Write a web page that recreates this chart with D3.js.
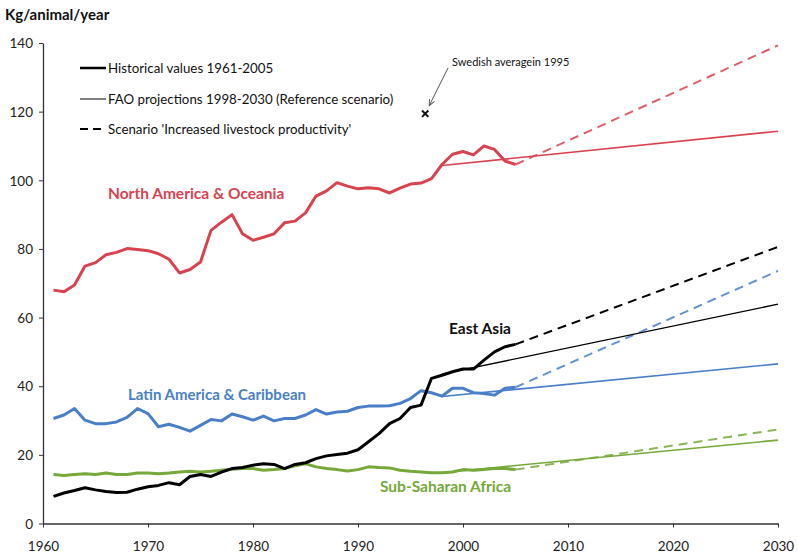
<!DOCTYPE html>
<html><head><meta charset="utf-8">
<script src="https://cdn.jsdelivr.net/npm/d3@7"></script>
<style>
html,body{margin:0;padding:0;background:#fff;}
svg{display:block;font-family:Lato,"Open Sans",sans-serif;}
</style></head>
<body><svg id="c" width="798" height="556"></svg>
<script>
const years = d3.range(1961, 2006);
const naHist = [68,67.5,69.5,75,76,78.3,79,80.1,79.8,79.5,78.6,77,73,74,76.2,85.4,87.8,90,84.4,82.5,83.4,84.4,87.6,88.1,90.5,95.4,96.9,99.3,98.3,97.5,97.8,97.5,96.3,97.7,98.9,99.2,100.5,104.6,107.6,108.4,107.4,110,109,105.6,104.6];
const eaHist = [7.9,8.9,9.6,10.4,9.8,9.3,9.0,9.1,10.0,10.7,11.1,11.9,11.3,13.7,14.3,13.7,15.0,16.0,16.3,17.0,17.4,17.2,16.0,17.2,17.7,18.9,19.7,20.1,20.5,21.5,23.8,26.2,29.1,30.6,33.8,34.5,42.3,43.2,44.2,45.0,45.0,47.6,50.0,51.5,52.2];
const laHist = [30.6,31.6,33.5,30.1,29.1,29.1,29.6,30.9,33.5,32,28.2,28.9,28,26.9,28.6,30.3,29.9,31.9,31.1,30.1,31.3,29.9,30.6,30.6,31.6,33.2,31.9,32.5,32.7,33.8,34.2,34.2,34.3,35,36.4,38.7,38.1,37.1,39.4,39.4,38.1,37.9,37.4,39.4,39.7];
const ssHist = [14.3,14.0,14.3,14.5,14.3,14.7,14.3,14.3,14.7,14.7,14.5,14.7,15.0,15.2,15.0,15.2,15.5,15.8,16.0,16.0,15.5,15.7,16.0,16.8,17.4,16.5,16.0,15.7,15.3,15.7,16.5,16.3,16.2,15.5,15.2,15.0,14.8,14.8,15.0,15.7,15.5,15.7,16.0,16.0,15.7];
const projYears = [1998, 2030];
const faoNA = [104.3, 114.3], faoEA = [43.5, 63.9], faoLA = [37, 46.5], faoSS = [14.8, 24.3];
const scenYears = [2005, 2030];
const scenNA = [104.6, 139.3], scenEA = [52.2, 80.6], scenLA = [39.7, 73.6], scenSS = [15.7, 27.4];
const xTicks = [1960,1970,1980,1990,2000,2010,2020,2030];
const yTicks = [0,20,40,60,80,100,120,140];
const swedish = {year: 1996.4, value: 119.4, label: "Swedish averagein 1995"};
const regions = ["North America & Oceania","East Asia","Latin America & Caribbean","Sub-Saharan Africa"];
const legendItems = ["Historical values 1961-2005","FAO projections 1998-2030 (Reference scenario)","Scenario 'Increased livestock productivity'"];

const colors = {na:"#d9434f", ea:"#000000", la:"#4a7fc8", ss:"#76a83a"};
const svg = d3.select("#c");
const x = d3.scaleLinear().domain([1960,2030]).range([43,778]);
const y = d3.scaleLinear().domain([0,140]).range([523.5,43]);

// axes
const xa = svg.append("g").attr("transform","translate(0,523.5)")
  .call(d3.axisBottom(x).tickValues(xTicks).tickFormat(d3.format("d")).tickSize(4).tickSizeOuter(0));
const ya = svg.append("g").attr("transform","translate(43,0)")
  .call(d3.axisLeft(y).tickValues(yTicks).tickSize(4).tickSizeOuter(0));
[xa,ya].forEach(a=>{
  a.select(".domain").attr("stroke","#333").attr("stroke-width",1.3);
  a.selectAll(".tick line").attr("stroke","#333");
  a.selectAll("text").attr("fill","#222").attr("font-size",13.5).attr("font-family","Lato,'Open Sans',sans-serif");
});
xa.selectAll("text").attr("dy","1.5em");
ya.selectAll("text").attr("x",-10).attr("dy","0.35em");

svg.append("text").attr("x",5).attr("y",20).attr("font-size",15).attr("font-weight","bold").attr("fill","#111").text("Kg/animal/year");

const line = d3.line().x(d=>x(d[0])).y(d=>y(d[1]));
const zip = (xs, vs) => xs.map((v,i)=>[v, vs[i]]);

const series = [
  {k:"na", hist:naHist, fao:faoNA, scen:scenNA},
  {k:"la", hist:laHist, fao:faoLA, scen:scenLA},
  {k:"ss", hist:ssHist, fao:faoSS, scen:scenSS},
  {k:"ea", hist:eaHist, fao:faoEA, scen:scenEA}
];
series.forEach(s=>{
  svg.append("path").attr("d",line(zip(projYears,s.fao))).attr("fill","none")
    .attr("stroke",colors[s.k]).attr("stroke-width",s.k==="ea"?1.3:1.6);
  svg.append("path").attr("d",line(zip(scenYears,s.scen))).attr("fill","none")
    .attr("stroke",colors[s.k]).attr("stroke-width",2).attr("stroke-dasharray","9,6").attr("opacity",s.k==="ea"?1:0.85);
});
series.forEach(s=>{
  svg.append("path").attr("d",line(zip(years,s.hist))).attr("fill","none")
    .attr("stroke",colors[s.k]).attr("stroke-width",3).attr("stroke-linejoin","round");
});

// region labels
const lab = [
  {t:regions[0], c:colors.na, x:108, y:199, s:15.5},
  {t:regions[1], c:"#111", x:449, y:334, s:15.5},
  {t:regions[2], c:colors.la, x:128, y:400, s:15},
  {t:regions[3], c:colors.ss, x:380, y:492, s:15.5}
];
lab.forEach(l=>svg.append("text").attr("x",l.x).attr("y",l.y).attr("font-size",l.s).attr("font-weight","bold").attr("fill",l.c).text(l.t));

// legend
const ly = [68, 99, 129];
legendItems.forEach((t,i)=>{
  const g = svg.append("g");
  g.append("line").attr("x1",80).attr("x2",106).attr("y1",ly[i]).attr("y2",ly[i])
    .attr("stroke","#000").attr("stroke-width",i===0?2.5:(i===1?1:2)).attr("stroke-dasharray",i===2?"8,5":null);
  g.append("text").attr("x",108).attr("y",ly[i]).attr("dy","0.35em").attr("font-size",13.3).attr("fill","#111").text(t);
});

// swedish marker
const sx = x(swedish.year), sy = y(swedish.value);
svg.append("path").attr("d",d3.symbol(d3.symbolX,28)()).attr("transform",`translate(${sx},${sy})`)
  .attr("stroke","#111").attr("stroke-width",2);
svg.append("defs").append("marker").attr("id","ar").attr("viewBox","0 0 10 10").attr("refX",9).attr("refY",5)
  .attr("markerWidth",7).attr("markerHeight",7).attr("orient","auto")
  .append("path").attr("d","M0,1 L9,5 L0,9").attr("fill","none").attr("stroke","#555").attr("stroke-width",1.3);
svg.append("line").attr("x1",448).attr("y1",68).attr("x2",sx+4).attr("y2",sy-8)
  .attr("stroke","#555").attr("stroke-width",1).attr("marker-end","url(#ar)");
svg.append("text").attr("x",452).attr("y",62).attr("dy","0.35em").attr("font-size",11).attr("fill","#111").text(swedish.label);
</script></body></html>
